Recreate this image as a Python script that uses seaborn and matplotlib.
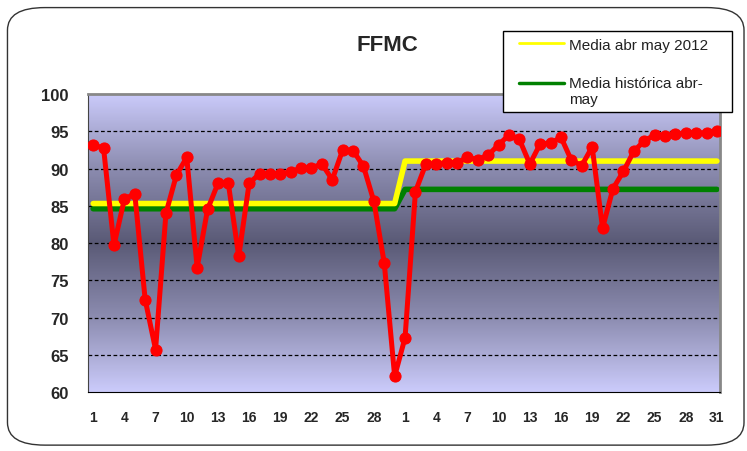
import numpy as np
import pandas as pd
import matplotlib
matplotlib.use("Agg")
import matplotlib.pyplot as plt
from matplotlib.colors import LinearSegmentedColormap
from matplotlib.patches import FancyBboxPatch
from matplotlib.lines import Line2D
import seaborn as sns

sns.set_style("white")
plt.rcParams['font.family'] = ['Liberation Sans', 'DejaVu Sans']

# FFMC diario abril y mayo 2012
ffmc_abril = [93.2, 92.7, 79.7, 85.9, 86.6, 72.4, 65.7, 84.0, 89.1, 91.5,
              76.7, 84.5, 88.0, 88.0, 78.2, 88.0, 89.3, 89.3, 89.3, 89.5,
              90.1, 90.1, 90.6, 88.5, 92.5, 92.4, 90.3, 85.6, 77.3, 62.1]
ffmc_mayo = [67.3, 86.9, 90.6, 90.6, 90.8, 90.8, 91.5, 91.2, 91.8, 93.2,
             94.5, 93.9, 90.6, 93.3, 93.4, 94.2, 91.1, 90.4, 92.9, 82.0,
             87.3, 89.6, 92.3, 93.7, 94.5, 94.4, 94.6, 94.8, 94.7, 94.8, 95.1]
media_2012 = [85.3, 91.0]       # abril, mayo
media_historica = [84.6, 87.2]  # abril, mayo

dias = list(range(1, 31)) + list(range(1, 32))
df = pd.DataFrame({
    "pos": np.arange(len(dias)),
    "dia": dias,
    "ffmc": ffmc_abril + ffmc_mayo,
    "media_2012": [media_2012[0]] * 30 + [media_2012[1]] * 31,
    "media_hist": [media_historica[0]] * 30 + [media_historica[1]] * 31,
})

fig = plt.figure(figsize=(7.47, 4.52), dpi=100)
fig.patch.set_facecolor("white")
marco = FancyBboxPatch((0.010, 0.013), 0.986, 0.968, transform=fig.transFigure,
                       boxstyle="round,pad=0,rounding_size=0.05",
                       facecolor="none", edgecolor="#333333", lw=1.0)
fig.patches.append(marco)

ax = fig.add_axes([0.1178, 0.1305, 0.8461, 0.6593])
xlim = (-0.5, 60.3)

# fondo degradado
cmap = LinearSegmentedColormap.from_list("fondo", ["#cbcbfb", "#8c8cb0", "#5a5a76", "#8c8cb0", "#cbcbfb"])
grad = np.linspace(0, 1, 256).reshape(-1, 1)
ax.imshow(grad, cmap=cmap, extent=[xlim[0], xlim[1], 60, 100], aspect="auto", zorder=0)

for v in range(65, 100, 5):
    ax.axhline(v, color="black", lw=0.9, ls=(0, (3, 2)), zorder=1)

sns.lineplot(data=df, x="pos", y="media_2012", color="#ffff00", lw=4, ax=ax, zorder=3)
sns.lineplot(data=df, x="pos", y="media_hist", color="#008000", lw=4, ax=ax, zorder=2)
sns.lineplot(data=df, x="pos", y="ffmc", color="#ff0000", lw=3.6, marker="o",
             markersize=8, markeredgecolor="#ff0000", ax=ax, zorder=4)

ax.set_xlim(*xlim)
ax.set_ylim(60, 100)
ax.set_yticks(range(60, 101, 5))
ax.set_xticks(df["pos"])
ax.set_xticklabels([str(d) if i % 3 == 0 else "" for i, d in enumerate(dias)])
ax.tick_params(axis="both", direction="out", length=4, width=1, color="black")
ax.tick_params(axis="x", labelsize=10, pad=9)
ax.tick_params(axis="y", labelsize=12, pad=10)
for lab in ax.get_xticklabels() + ax.get_yticklabels():
    lab.set_fontweight("bold")
ax.set_xlabel("")
ax.set_ylabel("")

ax.spines["top"].set_color("#888888")
ax.spines["right"].set_color("#888888")
ax.spines["top"].set_linewidth(2)
ax.spines["right"].set_linewidth(2)
ax.spines["left"].set_color("#444444")
ax.spines["bottom"].set_color("black")

fig.text(0.518, 0.9, "FFMC", ha="center", va="center", fontsize=16, fontweight="bold")

handles = [Line2D([], [], color="#ffff00", lw=2), Line2D([], [], color="#008000", lw=2.5)]
leg = fig.legend(handles, ["Media abr may 2012", "Media histórica abr-\nmay"],
                 loc="upper left", bbox_to_anchor=(0.6734, 0.75, 0.3066, 0.179),
                 mode="expand", borderaxespad=0, frameon=True,
                 fancybox=False, framealpha=1, edgecolor="black", fontsize=11,
                 handlelength=3.6, labelspacing=1.6, borderpad=0.42, handletextpad=0.3)
leg.get_frame().set_linewidth(1)
leg.set_zorder(10)
for t in leg.get_texts():
    t.set_color("#222222")
    t.set_linespacing(1.15)
# recortar el inicio de la muestra y alinear la verde con la primera línea
for i, h in enumerate(leg.legend_handles):
    xd = np.asarray(h.get_xdata(), dtype=float)
    h.set_xdata([xd[0] + 7.0, xd[-1]])
    yd = np.asarray(h.get_ydata(), dtype=float)
    shift = 6.0 if i == 1 else 0.0
    h.set_ydata([yd[0] + shift, yd[-1] + shift])

fig.savefig("out.png", dpi=100)
